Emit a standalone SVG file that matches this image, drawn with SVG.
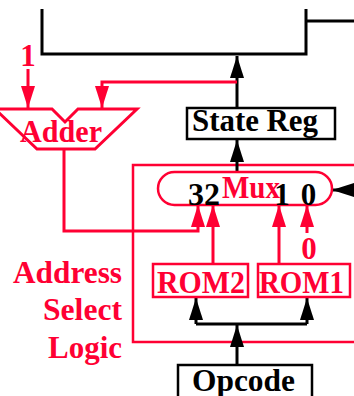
<svg xmlns="http://www.w3.org/2000/svg" width="354" height="396" viewBox="0 0 354 396">
<style>
.k{fill:none;stroke:#000;stroke-width:3}
.r{fill:none;stroke:#f03;stroke-width:3}
.kb{fill:#fff;stroke:#000;stroke-width:2.5}
.rb{fill:none;stroke:#f03;stroke-width:2.5}
text{font-family:"Liberation Serif","Times New Roman",serif;font-weight:bold;font-size:31px}
.tr{fill:#f03}
.tk{fill:#000}
</style>
<defs>
<marker id="ak" viewBox="0 0 22 14" refX="22" refY="7" markerWidth="22" markerHeight="14" markerUnits="userSpaceOnUse" orient="auto"><path d="M0,0 L22,7 L0,14 Z" fill="#000"/></marker>
<marker id="ar" viewBox="0 0 22 14" refX="22" refY="7" markerWidth="22" markerHeight="14" markerUnits="userSpaceOnUse" orient="auto"><path d="M0,0 L22,7 L0,14 Z" fill="#f03"/></marker>
</defs>
<rect width="354" height="396" fill="#fff"/>
<g id="memory">
<path class="k" d="M42,9 V54 H306 V9 M306,21 H354"/>
</g>
<g id="address-select-logic">
<rect class="rb" x="133" y="165" width="240" height="177"/>
<text class="tr" x="13" y="283" textLength="109" lengthAdjust="spacingAndGlyphs">Address</text>
<text class="tr" x="43" y="320" textLength="79" lengthAdjust="spacingAndGlyphs">Select</text>
<text class="tr" x="48" y="358" textLength="74" lengthAdjust="spacingAndGlyphs">Logic</text>
</g>
<g id="connectors">
<path class="k" d="M237,108 V56" marker-end="url(#ak)"/>
<path class="k" d="M237,172 V140" marker-end="url(#ak)"/>
<path class="k" d="M354,190 H332" marker-end="url(#ak)"/>
<path class="k" d="M237,365 V325" marker-end="url(#ak)"/>
<path class="k" d="M196,324 H307"/>
<path class="k" d="M196,324 V298" marker-end="url(#ak)"/>
<path class="k" d="M307,324 V298" marker-end="url(#ak)"/>
<path class="r" d="M237,82 H102 V108" marker-end="url(#ar)"/>
<path class="r" d="M28,69 V108" marker-end="url(#ar)"/>
<path class="r" d="M64,149 V231 H198 V205" marker-end="url(#ar)"/>
<path class="r" d="M213,264 V205" marker-end="url(#ar)"/>
<path class="r" d="M279,264 V205" marker-end="url(#ar)"/>
<path class="r" d="M307,233 V205" marker-end="url(#ar)"/>
</g>
<g id="const-1">
<text class="tr" text-anchor="middle" x="28" y="66">1</text>
</g>
<g id="adder">
<polygon class="r" points="-5,109 52,109 65,122 78,109 137,109 95,149 37,149"/>
<text class="tr" x="20" y="142" textLength="82" lengthAdjust="spacingAndGlyphs">Adder</text>
</g>
<g id="state-reg">
<rect class="kb" x="187" y="108" width="148" height="31"/>
<text class="tk" x="192" y="131" textLength="126" lengthAdjust="spacingAndGlyphs">State Reg</text>
</g>
<g id="mux">
<rect class="rb" x="158" y="172" width="174" height="33" rx="16.5"/>
<text class="tr" x="222" y="198" textLength="58" lengthAdjust="spacingAndGlyphs">Mux</text>
<text class="tk" x="188" y="205" textLength="32" lengthAdjust="spacingAndGlyphs">32</text>
<text class="tk" text-anchor="middle" x="282" y="205">1</text>
<text class="tk" text-anchor="middle" x="308.5" y="205">0</text>
</g>
<g id="const-0">
<text class="tr" text-anchor="middle" x="309" y="259">0</text>
</g>
<g id="rom2">
<rect class="rb" x="153" y="264" width="95" height="33"/>
<text class="tr" x="157" y="293" textLength="88" lengthAdjust="spacingAndGlyphs">ROM2</text>
</g>
<g id="rom1">
<rect class="rb" x="258" y="264" width="92" height="33"/>
<text class="tr" x="259" y="293" textLength="85" lengthAdjust="spacingAndGlyphs">ROM1</text>
</g>
<g id="opcode">
<rect class="kb" x="178" y="365" width="134" height="40"/>
<text class="tk" x="192" y="391" textLength="103" lengthAdjust="spacingAndGlyphs">Opcode</text>
</g>
</svg>
